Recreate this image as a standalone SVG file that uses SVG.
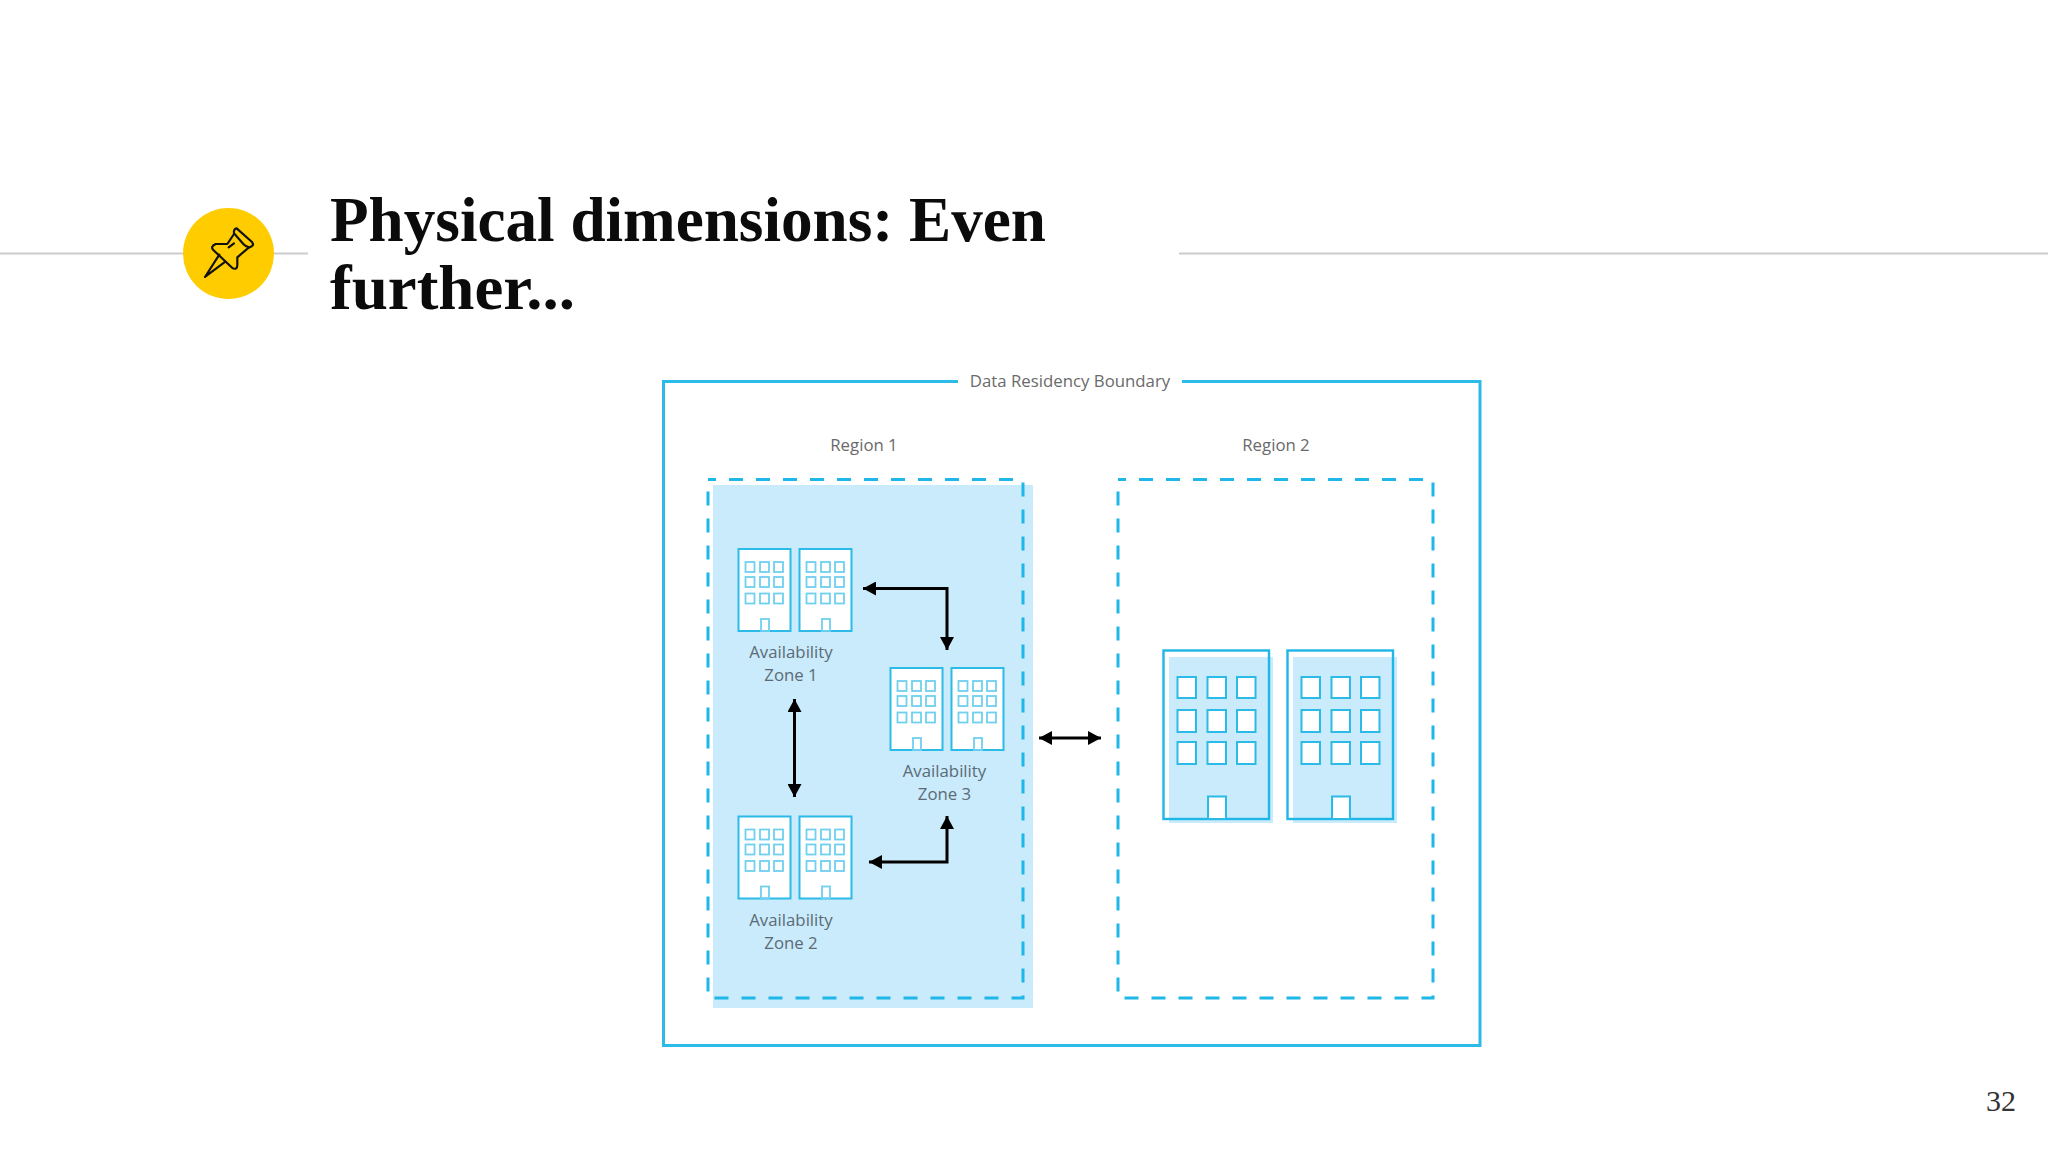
<svg xmlns="http://www.w3.org/2000/svg" xmlns:xlink="http://www.w3.org/1999/xlink" width="2048" height="1152" viewBox="0 0 2048 1152">
<style>
.title{font-family:"Liberation Serif",serif;font-weight:700;font-size:64px;fill:#0b0b0b}
.lbl{font-family:"Open Sans","Noto Sans",sans-serif;font-size:16.8px;text-anchor:middle;fill:#6a6a6a}
.in{fill:#5c6a75}
.rule{stroke:#cccccc;stroke-width:2;fill:none}
.solid{fill:none;stroke:#2bbbe6;stroke-width:3}
.dash{fill:none;stroke:#1fb6e8;stroke-width:3;stroke-dasharray:14 13;stroke-dashoffset:6}
.b{fill:#fff;stroke:#2bbbe6;stroke-width:2}
.w{fill:none;stroke:#6fd0ef;stroke-width:1.8}
.bw{fill:#fff;stroke:#2bbbe6;stroke-width:2}
.arrow{fill:none;stroke:#000;stroke-width:3}
</style>
<defs>
<marker id="ah" markerUnits="userSpaceOnUse" markerWidth="14" markerHeight="14" refX="13" refY="7" orient="auto-start-reverse"><path d="M0 0L13 7L0 14z" fill="#000"/></marker>
<g id="small">
<rect class="b" x="738.5" y="549" width="52" height="82"/>
<g class="w">
<rect x="745.5" y="562" width="9" height="10"/><rect x="760" y="562" width="9" height="10"/><rect x="774" y="562" width="9" height="10"/>
<rect x="745.5" y="577" width="9" height="10"/><rect x="760" y="577" width="9" height="10"/><rect x="774" y="577" width="9" height="10"/>
<rect x="745.5" y="593.500" width="9" height="10"/><rect x="760" y="593.500" width="9" height="10"/><rect x="774" y="593.500" width="9" height="10"/>
<rect x="761" y="619" width="8" height="12"/>
</g>
</g>
<g id="big">
<rect x="1169" y="657" width="104" height="166" fill="#c9ebfb"/>
<rect x="1163.500" y="650.500" width="105.500" height="168.500" fill="none" stroke="#1fb6e8" stroke-width="2.400"/>
<g class="bw">
<rect x="1177.500" y="677" width="18.500" height="21"/><rect x="1207.500" y="677" width="18.500" height="21"/><rect x="1237" y="677" width="18.500" height="21"/>
<rect x="1177.500" y="710" width="18.500" height="22"/><rect x="1207.500" y="710" width="18.500" height="22"/><rect x="1237" y="710" width="18.500" height="22"/>
<rect x="1177.500" y="742" width="18.500" height="22"/><rect x="1207.500" y="742" width="18.500" height="22"/><rect x="1237" y="742" width="18.500" height="22"/>
<rect x="1208" y="796.500" width="18" height="22.500"/>
</g>
</g>
</defs>
<rect width="2048" height="1152" fill="#fff"/>
<g id="header">
<path class="rule" d="M0 253.500H308M1179 253.500H2048"/>
<circle cx="228.500" cy="253.500" r="45.500" fill="#ffcc00"/>
<g transform="translate(150 170) scale(.3333)" fill="none" stroke="#111" stroke-width="6.500" stroke-linejoin="round" stroke-linecap="round">
<path d="M252 190Q250 178 260 175L306 216Q315 228 298 232Q288 231 280 222L252 190"/>
<path d="M252 192L232 222L197 222Q180 230 190 240L248 295Q262 300 262 285L262 262L296 233"/>
<path d="M208 254L165 321L226 275"/>
<path d="M236 232L252 220"/>
</g>
<text class="title" x="330" y="241" textLength="716" lengthAdjust="spacingAndGlyphs">Physical dimensions: Even</text>
<text class="title" x="330" y="309" textLength="245" lengthAdjust="spacingAndGlyphs">further...</text>
<text x="2016" y="1111" font-family="'Liberation Serif',serif" font-size="30" text-anchor="end" fill="#333">32</text>
</g>
<g id="boundary">
<path class="solid" d="M958 381.500H663.500V1045.500H1480V381.500H1182"/>
<text class="lbl" x="1070" y="387">Data Residency Boundary</text>
</g>
<g id="region1">
<text class="lbl" x="864" y="450.500">Region 1</text>
<rect x="713" y="485" width="320" height="523" fill="#c9ebfb"/>
<rect class="dash" x="708" y="479.500" width="315" height="518.500"/>
</g>
<g id="zone1">
<use href="#small"/><use href="#small" x="61"/>
<text class="lbl in" x="791" y="658">Availability</text>
<text class="lbl in" x="791" y="681">Zone 1</text>
</g>
<g id="zone3">
<use href="#small" x="152" y="119"/><use href="#small" x="213" y="119"/>
<text class="lbl in" x="944.500" y="777">Availability</text>
<text class="lbl in" x="944.500" y="800">Zone 3</text>
</g>
<g id="zone2">
<use href="#small" y="267.500"/><use href="#small" x="61" y="267.500"/>
<text class="lbl in" x="791" y="926">Availability</text>
<text class="lbl in" x="791" y="949">Zone 2</text>
</g>
<g id="region2">
<text class="lbl" x="1276" y="450.500">Region 2</text>
<rect class="dash" x="1118" y="479.500" width="315" height="518.500"/>
<use href="#big"/><use href="#big" x="124"/>
</g>
<g id="connectors">
<path class="arrow" marker-start="url(#ah)" marker-end="url(#ah)" d="M863 588.500H947V650"/>
<path class="arrow" marker-start="url(#ah)" marker-end="url(#ah)" d="M794.500 699V797"/>
<path class="arrow" marker-start="url(#ah)" marker-end="url(#ah)" d="M869 862H947V816"/>
<path class="arrow" marker-start="url(#ah)" marker-end="url(#ah)" d="M1039 738H1101"/>
</g>
</svg>
